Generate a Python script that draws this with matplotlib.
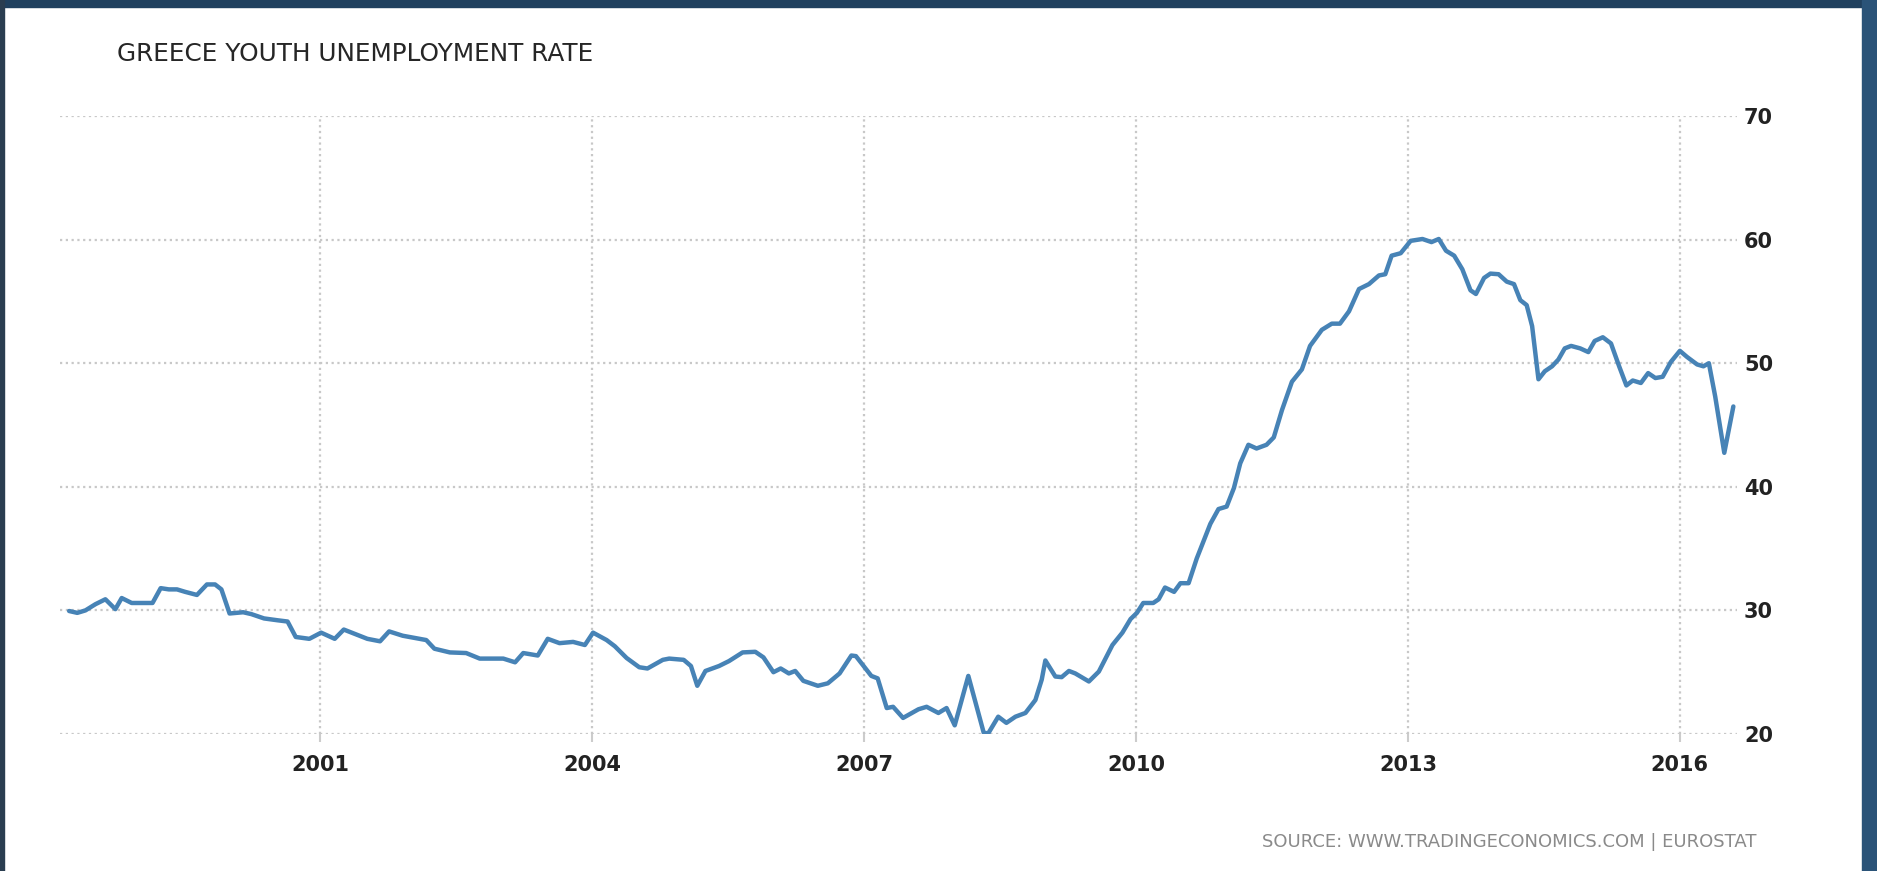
import matplotlib
matplotlib.use("Agg")
import matplotlib.pyplot as plt
from matplotlib.patches import Rectangle

# monthly-ish readings (decimal year, youth unemployment rate %)
years = [1998.23, 1998.32, 1998.41, 1998.52, 1998.63, 1998.74, 1998.81, 1998.92,
         1999.15, 1999.24, 1999.33, 1999.42, 1999.51, 1999.64, 1999.75, 1999.84, 1999.91,
         2000.00, 2000.15, 2000.24, 2000.38, 2000.53, 2000.64, 2000.73, 2000.88,
         2001.01, 2001.16, 2001.26, 2001.40, 2001.52, 2001.66, 2001.76, 2001.91,
         2002.06, 2002.17, 2002.26, 2002.43, 2002.61, 2002.76,
         2003.02, 2003.15, 2003.24, 2003.40, 2003.51, 2003.64, 2003.79, 2003.92,
         2004.01, 2004.16, 2004.25, 2004.38, 2004.52, 2004.61, 2004.78, 2004.85,
         2005.01, 2005.09, 2005.16, 2005.25, 2005.40, 2005.51, 2005.66, 2005.80, 2005.89,
         2006.00, 2006.08, 2006.17, 2006.24, 2006.33, 2006.49, 2006.60, 2006.73, 2006.86, 2006.91,
         2007.08, 2007.15, 2007.25, 2007.32, 2007.43, 2007.60, 2007.69, 2007.82, 2007.91,
         2008.00, 2008.15, 2008.22, 2008.32, 2008.37, 2008.48, 2008.57, 2008.67, 2008.78, 2008.89, 2008.96,
         2009.00, 2009.11, 2009.18, 2009.26, 2009.33, 2009.48, 2009.59, 2009.74, 2009.85, 2009.94,
         2010.01, 2010.08, 2010.19, 2010.25, 2010.32, 2010.42, 2010.49, 2010.58, 2010.67, 2010.82, 2010.91,
         2011.00, 2011.08, 2011.15, 2011.24, 2011.33, 2011.44, 2011.52, 2011.61, 2011.72, 2011.83, 2011.92,
         2012.05, 2012.16, 2012.25, 2012.35, 2012.46, 2012.57, 2012.68, 2012.75, 2012.82, 2012.92,
         2013.03, 2013.16, 2013.26, 2013.34, 2013.42, 2013.51, 2013.60, 2013.69, 2013.75, 2013.84, 2013.91,
         2014.00, 2014.09, 2014.17, 2014.24, 2014.31, 2014.37, 2014.44, 2014.51, 2014.59, 2014.66, 2014.73,
         2014.80, 2014.90, 2014.99,
         2015.06, 2015.15, 2015.24, 2015.33, 2015.41, 2015.48, 2015.57, 2015.65, 2015.73, 2015.81, 2015.90,
         2016.00, 2016.08, 2016.19, 2016.26, 2016.32, 2016.39, 2016.49, 2016.59]

rate = [29.95, 29.8, 30.0, 30.5, 30.9, 30.1, 31.0, 30.6,
        30.6, 31.8, 31.7, 31.7, 31.5, 31.25, 32.1, 32.1, 31.7,
        29.75, 29.85, 29.7, 29.35, 29.2, 29.1, 27.85, 27.7,
        28.2, 27.7, 28.45, 28.05, 27.7, 27.5, 28.3, 27.95,
        27.75, 27.6, 26.9, 26.6, 26.55, 26.1,
        26.1, 25.8, 26.55, 26.35, 27.7, 27.35, 27.45, 27.2,
        28.2, 27.6, 27.1, 26.15, 25.4, 25.3, 26.0, 26.1,
        26.0, 25.5, 23.9, 25.1, 25.5, 25.9, 26.6, 26.65, 26.2,
        25.0, 25.3, 24.9, 25.1, 24.3, 23.9, 24.1, 24.9, 26.35, 26.3,
        24.7, 24.5, 22.1, 22.2, 21.3, 22.0, 22.2, 21.7, 22.1,
        20.7, 24.7, 22.8, 20.1, 20.05, 21.4, 20.9, 21.4, 21.7, 22.75, 24.4,
        25.95, 24.65, 24.6, 25.1, 24.9, 24.25, 25.05, 27.2, 28.2, 29.3,
        29.8, 30.6, 30.6, 30.9, 31.85, 31.5, 32.2, 32.2, 34.2, 37.0, 38.2,
        38.4, 39.9, 41.9, 43.4, 43.1, 43.4, 44.0, 46.2, 48.5, 49.5, 51.4,
        52.7, 53.2, 53.2, 54.2, 56.0, 56.4, 57.1, 57.2, 58.7, 58.9,
        59.9, 60.05, 59.8, 60.05, 59.1, 58.7, 57.6, 55.9, 55.6, 56.9, 57.25,
        57.2, 56.6, 56.4, 55.1, 54.7, 53.0, 48.7, 49.35, 49.75, 50.3, 51.2,
        51.4, 51.2, 50.9,
        51.8, 52.1, 51.6, 49.75, 48.2, 48.6, 48.4, 49.2, 48.8, 48.9, 50.1,
        51.0, 50.5, 49.9, 49.75, 50.0, 47.3, 42.75, 46.5]

xticks = [2001, 2004, 2007, 2010, 2013, 2016]
yticks = [20, 30, 40, 50, 60, 70]

fig = plt.figure(figsize=(18.77, 8.71), dpi=100)
ax = fig.add_axes([0.032, 0.1573, 0.8934, 0.7095])

ax.plot(years, rate, color="#4783b6", lw=3.2, solid_joinstyle="round", solid_capstyle="round")

ax.set_xlim(1998.13, 2016.63)
ax.set_ylim(20, 70)
ax.set_xticks(xticks)
ax.set_yticks(yticks)
ax.grid(True, color="#c8c8c8", lw=1.6, linestyle=(0, (1, 1.6)))
ax.set_axisbelow(True)
for s in ax.spines.values():
    s.set_visible(False)

ax.yaxis.tick_right()
ax.tick_params(axis="x", length=6, width=1.5, color="#cccccc", pad=9, labelsize=15, labelcolor="#222222")
ax.tick_params(axis="y", length=0, pad=5, labelsize=15, labelcolor="#222222")
for lab in ax.get_xticklabels() + ax.get_yticklabels():
    lab.set_fontweight("bold")

fig.text(117 / 1877, 1 - 54 / 871, "GREECE YOUTH UNEMPLOYMENT RATE", fontsize=17.8,
         color="#262626", ha="left", va="center")
fig.text(1756 / 1877, 1 - 842 / 871, "SOURCE: WWW.TRADINGECONOMICS.COM | EUROSTAT", fontsize=13,
         color="#8a8a8a", ha="right", va="center")

# screenshot border strips
fig.patches.append(Rectangle((0, 1 - 7 / 871), 1, 7 / 871, transform=fig.transFigure, color="#20405e", zorder=0))
fig.patches.append(Rectangle((0, 0), 4 / 1877, 1, transform=fig.transFigure, color="#2a3d50", zorder=0))
fig.patches.append(Rectangle((1 - 15 / 1877, 0), 15 / 1877, 1, transform=fig.transFigure, color="#2a5378", zorder=0))

fig.savefig("out.png", dpi=100)
